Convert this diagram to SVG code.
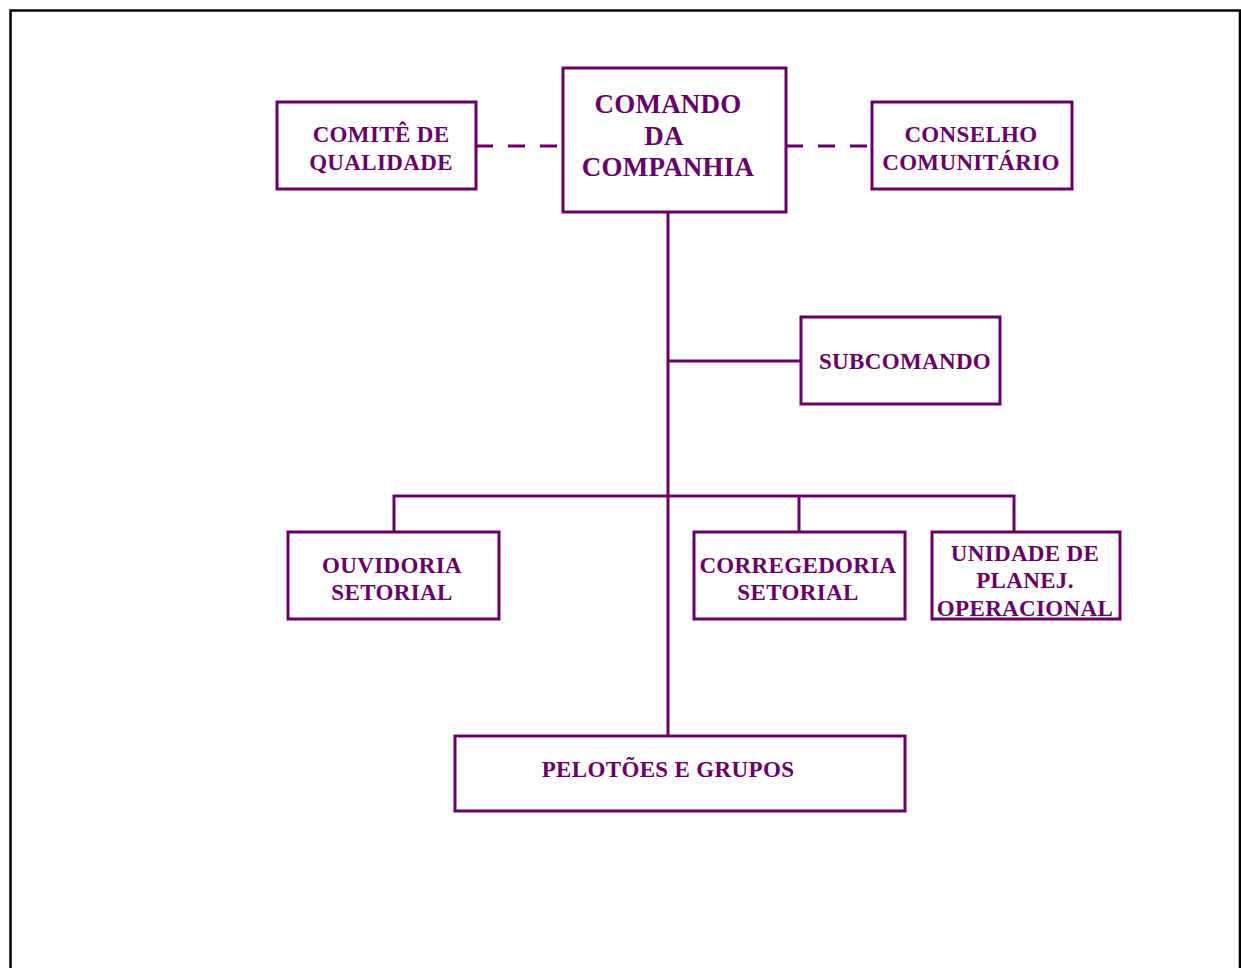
<svg xmlns="http://www.w3.org/2000/svg" width="1241" height="968" viewBox="0 0 1241 968">
  <style>
    .box { fill: #ffffff; stroke: #660066; stroke-width: 3; }
    .line { fill: none; stroke: #660066; stroke-width: 3; }
    .dash { fill: none; stroke: #660066; stroke-width: 3; stroke-dasharray: 17 15; }
    .lbl { font-family: "Liberation Serif", "Times New Roman", serif; font-weight: bold; font-size: 23px; letter-spacing: 0.35px; fill: #660066; text-anchor: middle; }
    .big { font-size: 27px; letter-spacing: 0.2px; }
  </style>
  <rect x="0" y="0" width="1241" height="968" fill="#ffffff"/>
  <!-- page frame -->
  <path d="M10.5 980 V10.5 H1240 V980" fill="none" stroke="#000000" stroke-width="2.5"/>

  <g id="connectors">
    <path class="dash" d="M476 146 H563"/>
    <path class="dash" d="M786 146 H872"/>
    <path class="line" d="M668 212 V736"/>
    <path class="line" d="M668 361 H801"/>
    <path class="line" d="M394 532 V496 H1014 V532"/>
    <path class="line" d="M799 496 V532"/>
  </g>

  <g id="comando">
    <rect class="box" x="563" y="68" width="223" height="144"/>
    <text class="lbl big" x="668" y="113">COMANDO</text>
    <text class="lbl big" x="664" y="145">DA</text>
    <text class="lbl big" x="668" y="176">COMPANHIA</text>
  </g>
  <g id="comite">
    <rect class="box" x="277" y="102" width="199" height="87"/>
    <text class="lbl" x="381" y="142">COMITÊ DE</text>
    <text class="lbl" x="381" y="170">QUALIDADE</text>
  </g>
  <g id="conselho">
    <rect class="box" x="872" y="102" width="200" height="87"/>
    <text class="lbl" x="971" y="142">CONSELHO</text>
    <text class="lbl" x="971" y="170">COMUNITÁRIO</text>
  </g>
  <g id="subcomando">
    <rect class="box" x="801" y="317" width="199" height="87"/>
    <text class="lbl" x="905" y="369">SUBCOMANDO</text>
  </g>
  <g id="ouvidoria">
    <rect class="box" x="288" y="532" width="211" height="87"/>
    <text class="lbl" x="392" y="573">OUVIDORIA</text>
    <text class="lbl" x="392" y="600">SETORIAL</text>
  </g>
  <g id="corregedoria">
    <rect class="box" x="694" y="532" width="211" height="87"/>
    <text class="lbl" x="798" y="573">CORREGEDORIA</text>
    <text class="lbl" x="798" y="600">SETORIAL</text>
  </g>
  <g id="unidade">
    <rect class="box" x="932" y="532" width="188" height="87"/>
    <text class="lbl" x="1025" y="561">UNIDADE DE</text>
    <text class="lbl" x="1025" y="588">PLANEJ.</text>
    <text class="lbl" x="1025" y="616">OPERACIONAL</text>
  </g>
  <g id="pelotoes">
    <rect class="box" x="455" y="736" width="450" height="75"/>
    <text class="lbl" x="668" y="777">PELOTÕES E GRUPOS</text>
  </g>
</svg>
